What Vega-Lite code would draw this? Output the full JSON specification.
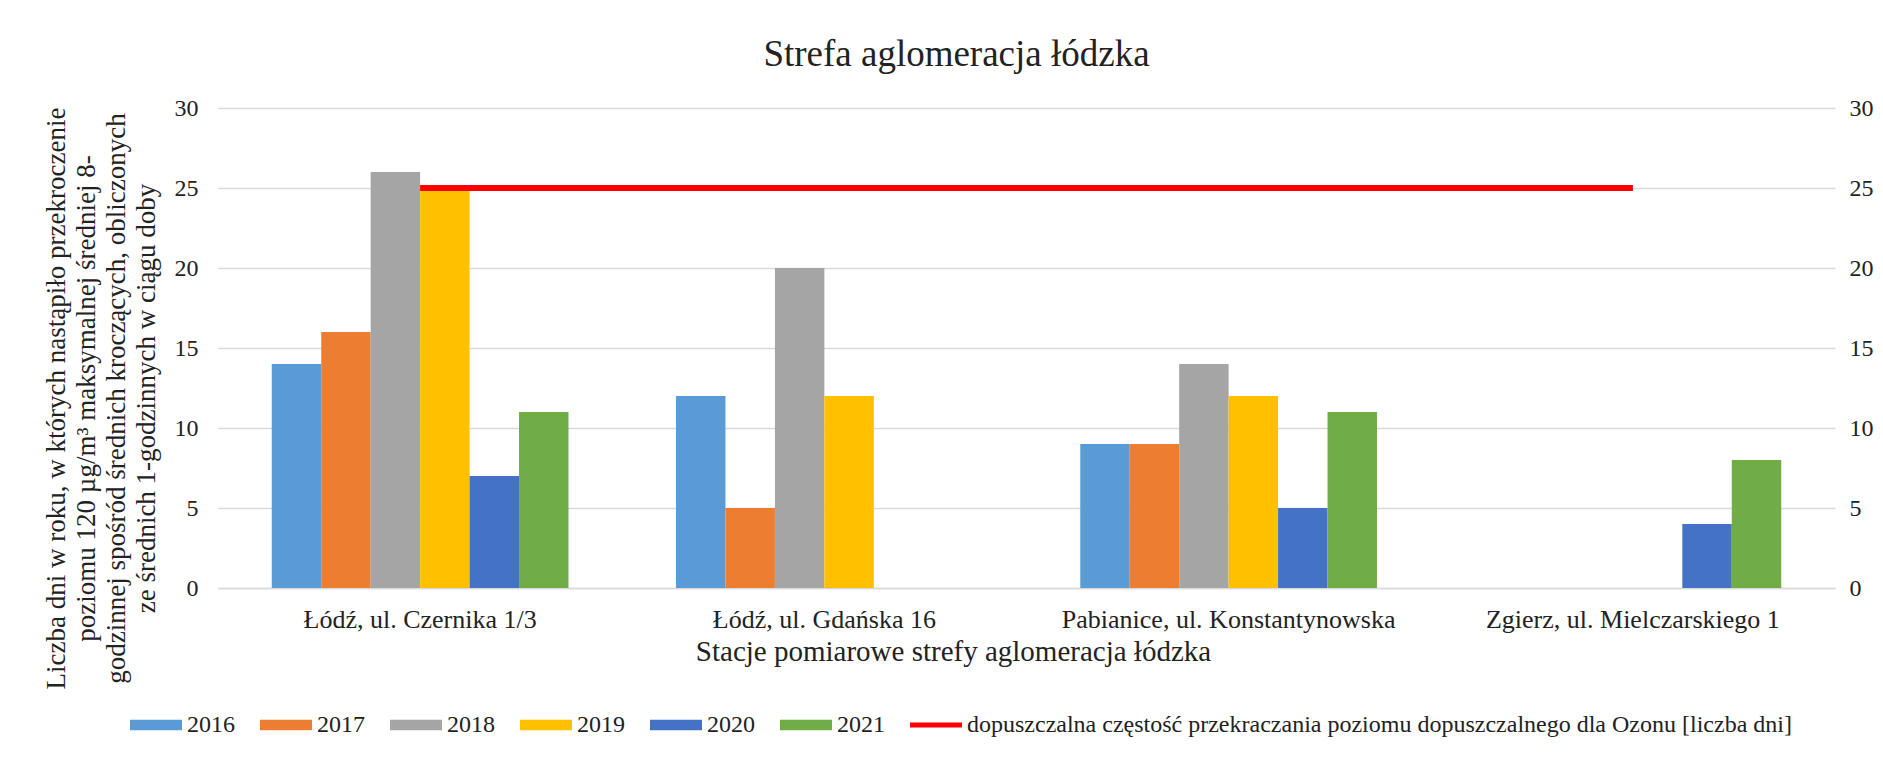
{
  "$schema": "https://vega.github.io/schema/vega-lite/v6.json",
  "width": 1617,
  "height": 480,
  "autosize": {"type": "none"},
  "padding": {"left": 218, "top": 108, "right": 48, "bottom": 169},
  "background": "white",
  "title": {
    "text": "Strefa aglomeracja łódzka",
    "font": "Liberation Serif",
    "fontSize": 37,
    "fontWeight": "normal",
    "color": "#222222",
    "anchor": "middle",
    "dx": -70,
    "offset": 22
  },
  "config": {
    "font": "Liberation Serif",
    "view": {"stroke": null},
    "axis": {
      "labelFont": "Liberation Serif",
      "titleFont": "Liberation Serif",
      "labelColor": "#222222",
      "titleColor": "#222222",
      "titleFontWeight": "normal"
    },
    "legend": {"labelFont": "Liberation Serif"}
  },
  "datasets": {
    "bars": [
      {"stacja": "Łódź, ul. Czernika 1/3", "seria": "2016", "wartosc": 14},
      {"stacja": "Łódź, ul. Czernika 1/3", "seria": "2017", "wartosc": 16},
      {"stacja": "Łódź, ul. Czernika 1/3", "seria": "2018", "wartosc": 26},
      {"stacja": "Łódź, ul. Czernika 1/3", "seria": "2019", "wartosc": 25},
      {"stacja": "Łódź, ul. Czernika 1/3", "seria": "2020", "wartosc": 7},
      {"stacja": "Łódź, ul. Czernika 1/3", "seria": "2021", "wartosc": 11},
      {"stacja": "Łódź, ul. Gdańska 16", "seria": "2016", "wartosc": 12},
      {"stacja": "Łódź, ul. Gdańska 16", "seria": "2017", "wartosc": 5},
      {"stacja": "Łódź, ul. Gdańska 16", "seria": "2018", "wartosc": 20},
      {"stacja": "Łódź, ul. Gdańska 16", "seria": "2019", "wartosc": 12},
      {"stacja": "Pabianice, ul. Konstantynowska", "seria": "2016", "wartosc": 9},
      {"stacja": "Pabianice, ul. Konstantynowska", "seria": "2017", "wartosc": 9},
      {"stacja": "Pabianice, ul. Konstantynowska", "seria": "2018", "wartosc": 14},
      {"stacja": "Pabianice, ul. Konstantynowska", "seria": "2019", "wartosc": 12},
      {"stacja": "Pabianice, ul. Konstantynowska", "seria": "2020", "wartosc": 5},
      {"stacja": "Pabianice, ul. Konstantynowska", "seria": "2021", "wartosc": 11},
      {"stacja": "Zgierz, ul. Mielczarskiego 1", "seria": "2020", "wartosc": 4},
      {"stacja": "Zgierz, ul. Mielczarskiego 1", "seria": "2021", "wartosc": 8}
    ],
    "limit": [
      {"stacja": "Łódź, ul. Czernika 1/3", "seria": "dopuszczalna częstość przekraczania poziomu dopuszczalnego dla Ozonu [liczba dni]", "wartosc": 25},
      {"stacja": "Łódź, ul. Gdańska 16", "seria": "dopuszczalna częstość przekraczania poziomu dopuszczalnego dla Ozonu [liczba dni]", "wartosc": 25},
      {"stacja": "Pabianice, ul. Konstantynowska", "seria": "dopuszczalna częstość przekraczania poziomu dopuszczalnego dla Ozonu [liczba dni]", "wartosc": 25},
      {"stacja": "Zgierz, ul. Mielczarskiego 1", "seria": "dopuszczalna częstość przekraczania poziomu dopuszczalnego dla Ozonu [liczba dni]", "wartosc": 25}
    ]
  },
  "resolve": {"axis": {"y": "independent"}},
  "layer": [
    {
      "data": {"name": "bars"},
      "mark": {"type": "bar"},
      "encoding": {
        "x": {
          "field": "stacja",
          "type": "nominal",
          "sort": null,
          "scale": {"paddingInner": 0.266, "paddingOuter": 0.133},
          "axis": {
            "title": "Stacje pomiarowe strefy aglomeracja łódzka",
            "titleFont": "Liberation Serif",
            "titleFontSize": 29,
            "titlePadding": 5,
            "titleX": 735,
            "labelFont": "Liberation Serif",
            "labelFontSize": 26,
            "labelAngle": 0,
            "labelPadding": 18,
            "labelLimit": 0,
            "ticks": false,
            "domain": true,
            "domainColor": "#d9d9d9",
            "domainWidth": 1.5,
            "grid": false
          }
        },
        "xOffset": {
          "field": "seria",
          "type": "nominal",
          "scale": {"domain": ["2016", "2017", "2018", "2019", "2020", "2021"], "paddingInner": 0, "paddingOuter": 0}
        },
        "y": {
          "field": "wartosc",
          "type": "quantitative",
          "scale": {"domain": [0, 30], "nice": false},
          "axis": {
            "title": [
              "Liczba dni w roku, w których nastąpiło przekroczenie",
              "poziomu 120 µg/m³ maksymalnej średniej 8-",
              "godzinnej spośród średnich kroczących, obliczonych",
              "ze średnich 1-godzinnych w ciągu doby"
            ],
            "titleFont": "Liberation Serif",
            "titleFontSize": 27,
            "titleLineHeight": 30,
            "titlePadding": 14,
            "titleY": 290,
            "values": [0, 5, 10, 15, 20, 25, 30],
            "labelFont": "Liberation Serif",
            "labelFontSize": 24,
            "labelPadding": 20,
            "ticks": false,
            "domain": false,
            "grid": true,
            "gridColor": "#d9d9d9",
            "gridWidth": 1.3
          }
        },
        "color": {
          "field": "seria",
          "type": "nominal",
          "scale": {
            "domain": ["2016", "2017", "2018", "2019", "2020", "2021", "dopuszczalna częstość przekraczania poziomu dopuszczalnego dla Ozonu [liczba dni]"],
            "range": ["#5B9BD5", "#ED7D31", "#A5A5A5", "#FFC000", "#4472C4", "#70AD47", "#FF0000"]
          },
          "legend": {
            "title": null,
            "orient": "none",
            "direction": "horizontal",
            "legendX": -88,
            "legendY": 591,
            "labelFont": "Liberation Serif",
            "labelFontSize": 24,
            "labelColor": "#222222",
            "labelLimit": 0,
            "labelOffset": 5,
            "columnPadding": 25,
            "symbolSize": 2704,
            "symbolStrokeWidth": 0,
            "symbolType": "M-1,-0.2H1V0.2H-1Z",
            "encode": {
              "symbols": {
                "update": {
                  "shape": [
                    {"test": "datum.value === 'dopuszczalna częstość przekraczania poziomu dopuszczalnego dla Ozonu [liczba dni]'", "value": "M-1,-0.1H1V0.1H-1Z"},
                    {"value": "M-1,-0.2H1V0.2H-1Z"}
                  ],
                  "fill": {"scale": "color", "field": "value"},
                  "strokeWidth": {"value": 0},
                  "opacity": {"value": 1}
                }
              }
            }
          }
        }
      }
    },
    {
      "data": {"name": "limit"},
      "mark": {"type": "line", "strokeWidth": 6},
      "encoding": {
        "x": {"field": "stacja", "type": "nominal", "sort": null},
        "y": {
          "field": "wartosc",
          "type": "quantitative",
          "axis": {
            "title": null,
            "orient": "right",
            "values": [0, 5, 10, 15, 20, 25, 30],
            "labelFont": "Liberation Serif",
            "labelFontSize": 24,
            "labelPadding": 14,
            "ticks": false,
            "domain": false,
            "grid": false
          }
        },
        "color": {"field": "seria", "type": "nominal"}
      }
    }
  ]
}
